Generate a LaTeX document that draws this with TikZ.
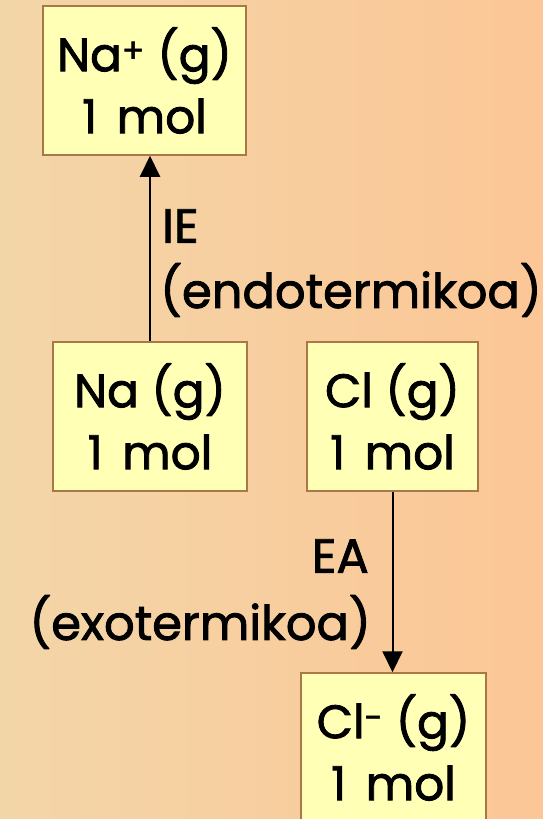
\documentclass[tikz,border=0pt]{standalone}
\usepackage{fontspec}
\setmainfont{Poppins}[FakeBold=1.8,UprightFeatures={FakeBold=1.8}]
\usetikzlibrary{arrows.meta}
\definecolor{bgleft}{RGB}{243,214,168}
\definecolor{bgright}{RGB}{252,198,150}
\definecolor{boxfill}{RGB}{255,255,181}
\definecolor{boxline}{RGB}{170,120,70}
\newcommand{\onemol}{1 \hspace{0.15em}mol}
\tikzset{
  chembox/.style={draw=boxline, line width=1.5pt, fill=boxfill, align=center,
    minimum height=149pt, inner sep=0pt,
    font=\fontsize{47}{62}\selectfont},
  lbl/.style={inner sep=0pt, font=\fontsize{48}{64}\selectfont},
  conn/.style={line width=2pt, -{Triangle[length=21pt,width=20pt]}}
}
\begin{document}
\begin{tikzpicture}[x=1pt,y=-1pt]
\useasboundingbox (0,0) rectangle (543,819);
\clip (0,0) rectangle (543,819);
\shade[left color=bgleft, right color=bgright] (0,0) rectangle (543,819);
\node[chembox, minimum width=203pt] (naplus) at (144.5,80.5) {Na\textsuperscript{+} (g)\\\onemol};
\node[chembox, minimum width=194pt] (na) at (150,416.5) {Na (g)\\\onemol};
\node[chembox, minimum width=171pt] (cl) at (392.5,416.5) {Cl (g)\\\onemol};
\node[chembox, minimum width=185pt] (clm) at (393.5,747.5) {Cl\textsuperscript{-} (g)\\\onemol};
\draw[conn] (na.north) -- (na.north |- naplus.south);
\draw[conn] (cl.south) -- (cl.south |- clm.north);
\node[lbl, anchor=west] (ie) at (162,226) {IE};
\node[lbl, anchor=west] (endo) at (160,290) {(endotermikoa)};
\node[lbl, anchor=east] (ea) at (369,556) {EA};
\node[lbl, anchor=east] (exo) at (371,622) {(exotermikoa)};
\end{tikzpicture}
\end{document}
